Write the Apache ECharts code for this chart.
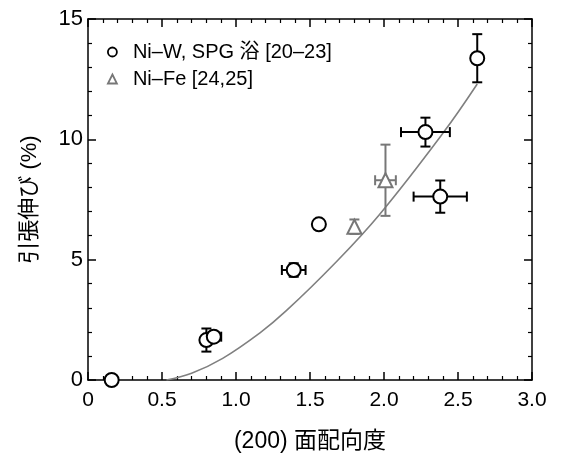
<!DOCTYPE html>
<html>
<head>
<meta charset="utf-8">
<script src="https://cdn.jsdelivr.net/npm/echarts@6/dist/echarts.min.js"></script>
<style>
html,body{margin:0;padding:0;background:#fff;}
#c{width:567px;height:454px;}
</style>
</head>
<body>
<div id="c"></div>
<script>
// --- data ---
var circleX    = [0.16, 0.80, 0.85, 1.39, 1.56, 2.28, 2.38, 2.63];
var circleY    = [0.00, 1.66, 1.80, 4.57, 6.47, 10.30, 7.62, 13.37];
var circleXErr = [0.00, 0.00, 0.05, 0.08, 0.00, 0.165, 0.18, 0.00];
var circleYErr = [0.00, 0.48, 0.00, 0.28, 0.00, 0.60, 0.67, 1.00];

var triX    = [1.80, 2.01];
var triY    = [6.37, 8.30];
var triXErr = [0.00, 0.07];
var triYErr = [0.30, 1.48];

var curveX = [0.53, 0.70, 0.91, 1.16, 1.34, 1.66, 1.97, 2.40, 2.63];
var curveY = [0.00, 0.28, 0.90, 1.95, 2.88, 4.80, 6.88, 10.27, 12.30];

var xTicks = [0, 0.5, 1.0, 1.5, 2.0, 2.5, 3.0];
var xTickLabels = ['0', '0.5', '1.0', '1.5', '2.0', '2.5', '3.0'];
var yTicks = [0, 5, 10, 15];
var yTickLabels = ['0', '5', '10', '15'];

var legendNames = ['Ni\u2013W, SPG \u6D74 [20\u201323]', 'Ni\u2013Fe [24,25]'];
var xName = '(200) \u9762\u914D\u5411\u5EA6';
var yName = '\u5F15\u5F35\u4F38\u3073 (%)';

function pairs(xs, ys) { return xs.map(function (x, i) { return [x, ys[i]]; }); }
function errRows(xs, ys, xe, ye) {
  return xs.map(function (x, i) { return [x, ys[i], xe[i], ye[i]]; });
}
function labelFor(ticks, labels) {
  return function (v) {
    for (var i = 0; i < ticks.length; i++) if (Math.abs(ticks[i] - v) < 1e-9) return labels[i];
    return '';
  };
}

var FONT = '"Liberation Sans", Arial, "Noto Sans CJK JP", sans-serif';

function errRender(color) {
  return function (params, api) {
    var x = api.value(0), y = api.value(1), xe = api.value(2), ye = api.value(3);
    var cap = 5;
    var st = { stroke: color, lineWidth: 2 };
    var kids = [];
    if (ye > 0) {
      var p1 = api.coord([x, y - ye]), p2 = api.coord([x, y + ye]);
      kids.push({ type: 'line', shape: { x1: p1[0], y1: p1[1], x2: p2[0], y2: p2[1] }, style: st });
      kids.push({ type: 'line', shape: { x1: p1[0] - cap, y1: p1[1], x2: p1[0] + cap, y2: p1[1] }, style: st });
      kids.push({ type: 'line', shape: { x1: p2[0] - cap, y1: p2[1], x2: p2[0] + cap, y2: p2[1] }, style: st });
    }
    if (xe > 0) {
      var q1 = api.coord([x - xe, y]), q2 = api.coord([x + xe, y]);
      kids.push({ type: 'line', shape: { x1: q1[0], y1: q1[1], x2: q2[0], y2: q2[1] }, style: st });
      kids.push({ type: 'line', shape: { x1: q1[0], y1: q1[1] - cap, x2: q1[0], y2: q1[1] + cap }, style: st });
      kids.push({ type: 'line', shape: { x1: q2[0], y1: q2[1] - cap, x2: q2[0], y2: q2[1] + cap }, style: st });
    }
    return { type: 'group', children: kids };
  };
}

var axisLine = { show: true, onZero: false, lineStyle: { color: '#000', width: 1.5 } };
var axisTick = { show: true, inside: true, length: 8, lineStyle: { color: '#000', width: 1.5 } };
var minorTick = { show: true, splitNumber: 5, length: 4, lineStyle: { color: '#000', width: 1.2 } };

var chart = echarts.init(document.getElementById('c'), null, { renderer: 'canvas' });
chart.setOption({
  animation: false,
  backgroundColor: '#fff',
  grid: { left: 88, right: 35, top: 19, bottom: 74, containLabel: false, outerBoundsMode: 'none' },
  legend: {
    orient: 'vertical', left: 102, top: 37, itemGap: 7,
    itemWidth: 9, itemHeight: 9,
    textStyle: { fontFamily: FONT, fontSize: 20, color: '#000', padding: [0, 0, 0, 11] },
    data: [
      { name: legendNames[0], icon: 'circle', itemStyle: { color: '#fff', borderColor: '#000', borderWidth: 1.8 } },
      { name: legendNames[1], icon: 'triangle', itemStyle: { color: '#fff', borderColor: '#777', borderWidth: 1.8 } }
    ]
  },
  xAxis: [
    {
      type: 'value', min: 0, max: 3, interval: 0.5,
      name: xName, nameLocation: 'middle', nameGap: 50,
      nameTextStyle: { fontFamily: FONT, fontSize: 23, color: '#000' },
      axisLine: axisLine, axisTick: axisTick, minorTick: minorTick,
      splitLine: { show: false },
      axisLabel: { fontFamily: FONT, fontSize: 21, color: '#000', margin: 10, formatter: labelFor(xTicks, xTickLabels) }
    },
    {
      type: 'value', position: 'top', min: 0, max: 3, interval: 0.5,
      axisLine: axisLine, axisTick: axisTick, minorTick: minorTick,
      splitLine: { show: false }, axisLabel: { show: false }
    }
  ],
  yAxis: [
    {
      type: 'value', min: 0, max: 15, interval: 5,
      name: yName, nameLocation: 'middle', nameGap: 47, nameRotate: 90,
      nameTextStyle: { fontFamily: FONT, fontSize: 22, color: '#000' },
      axisLine: axisLine, axisTick: axisTick, minorTick: minorTick,
      splitLine: { show: false },
      axisLabel: { fontFamily: FONT, fontSize: 22, color: '#000', margin: 5, formatter: labelFor(yTicks, yTickLabels) }
    },
    {
      type: 'value', position: 'right', min: 0, max: 15, interval: 5,
      axisLine: axisLine, axisTick: axisTick, minorTick: minorTick,
      splitLine: { show: false }, axisLabel: { show: false }
    }
  ],
  series: [
    {
      type: 'line', data: pairs(curveX, curveY), smooth: 0.4, showSymbol: false, symbol: 'none',
      lineStyle: { color: '#808080', width: 1.6 }, z: 1, silent: true
    },
    {
      type: 'custom', renderItem: errRender('#000'), data: errRows(circleX, circleY, circleXErr, circleYErr),
      z: 2, silent: true, clip: false
    },
    {
      type: 'custom', renderItem: errRender('#777'), data: errRows(triX, triY, triXErr, triYErr),
      z: 2, silent: true, clip: false
    },
    {
      name: legendNames[0], type: 'scatter', data: pairs(circleX, circleY),
      symbol: 'circle', symbolSize: 14, clip: false,
      itemStyle: { color: '#fff', borderColor: '#000', borderWidth: 2, opacity: 1 }, z: 3
    },
    {
      name: legendNames[1], type: 'scatter', data: pairs(triX, triY),
      symbol: 'triangle', symbolSize: 14, clip: false,
      itemStyle: { color: '#fff', borderColor: '#777', borderWidth: 2, opacity: 1 }, z: 3
    }
  ]
});
</script>
</body>
</html>
